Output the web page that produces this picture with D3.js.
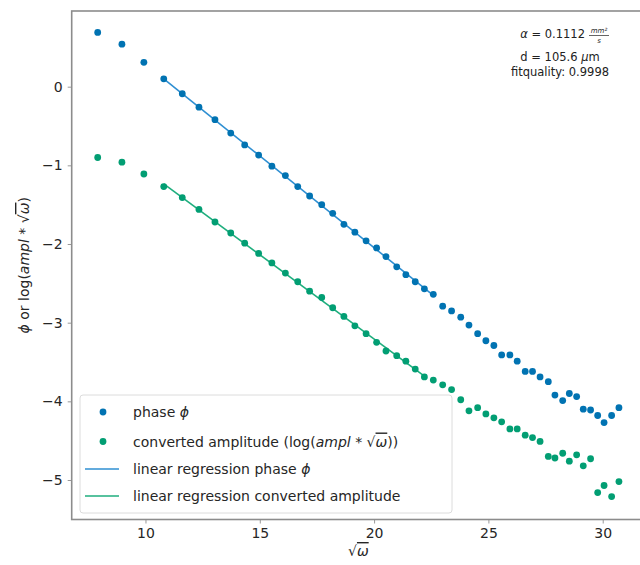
<!DOCTYPE html>
<html>
<head>
<meta charset="utf-8">
<script src="https://cdn.jsdelivr.net/npm/d3@7"></script>
<style>
  html, body { margin: 0; padding: 0; background: #fff; }
  svg { display: block; font-family: "DejaVu Sans", sans-serif; }
</style>
</head>
<body>
<svg id="chart" width="640" height="565"></svg>
<script>
// ---- data ----
const sqrtOmega = [7.91, 8.97, 9.93, 10.80, 11.61, 12.34, 13.04, 13.73, 14.34, 14.95,
  15.53, 16.12, 16.66, 17.18, 17.71, 18.19, 18.68, 19.16, 19.65, 20.11,
  20.52, 20.99, 21.39, 21.80, 22.20, 22.59, 23.00, 23.39, 23.79, 24.15,
  24.53, 24.89, 25.24, 25.58, 25.94, 26.26, 26.61, 26.93, 27.26, 27.62,
  27.91, 28.25, 28.54, 28.86, 29.15, 29.47, 29.78, 30.06, 30.39, 30.71];
const phase = [0.69, 0.54, 0.31, 0.10, -0.09, -0.26, -0.42, -0.59, -0.74, -0.87,
  -1.01, -1.13, -1.27, -1.39, -1.50, -1.61, -1.75, -1.85, -1.96, -2.05,
  -2.16, -2.29, -2.39, -2.48, -2.57, -2.64, -2.79, -2.85, -2.93, -3.03,
  -3.14, -3.23, -3.29, -3.41, -3.41, -3.49, -3.62, -3.62, -3.69, -3.75,
  -3.92, -3.99, -3.90, -3.94, -4.10, -4.11, -4.18, -4.27, -4.18, -4.08];
const amplitude = [-0.90, -0.96, -1.11, -1.27, -1.41, -1.56, -1.72, -1.86, -1.99, -2.12,
  -2.24, -2.37, -2.48, -2.60, -2.68, -2.81, -2.92, -3.04, -3.14, -3.25,
  -3.36, -3.42, -3.49, -3.59, -3.69, -3.73, -3.79, -3.85, -3.98, -4.12,
  -4.08, -4.16, -4.21, -4.26, -4.35, -4.35, -4.43, -4.46, -4.51, -4.70,
  -4.72, -4.66, -4.76, -4.68, -4.82, -4.73, -5.16, -5.07, -5.21, -5.02];
// index range of points used for each linear regression
const phaseFitRange = [3, 25];
const amplFitRange = [3, 24];
const xTicks = [10, 15, 20, 25, 30];
const yTicks = [0, -1, -2, -3, -4, -5];
const annotation = { alpha: "0.1112", d: "105.6", fit: "0.9998" };

// ---- layout ----
const svg = d3.select("#chart");
const pLeft = 71.7, pRight = 645, pTop = 11, pBottom = 519.5;
const x = d3.scaleLinear().domain([6.773, 31.85]).range([pLeft, pRight]);
const y = d3.scaleLinear().domain([-5.502, 0.962]).range([pBottom, pTop]);

const cBlue = "#0173b2", cGreen = "#029e73";
const lBlue = "#2f8fd2", lGreen = "#1fae7e";

function fit(xs, ys, r) {
  const X = xs.slice(r[0], r[1] + 1), Y = ys.slice(r[0], r[1] + 1);
  const mx = d3.mean(X), my = d3.mean(Y);
  let sxy = 0, sxx = 0;
  X.forEach((v, i) => { sxy += (v - mx) * (Y[i] - my); sxx += (v - mx) * (v - mx); });
  const m = sxy / sxx, b = my - m * mx;
  return [[X[0], m * X[0] + b], [X[X.length - 1], m * X[X.length - 1] + b]];
}

// axes
const gx = svg.append("g").attr("transform", `translate(0,${pBottom})`)
  .call(d3.axisBottom(x).tickValues(xTicks).tickSize(4).tickPadding(5).tickFormat(d3.format("d")));
const gy = svg.append("g").attr("transform", `translate(${pLeft},0)`)
  .call(d3.axisLeft(y).tickValues(yTicks).tickSize(4).tickPadding(5)
    .tickFormat(d => d < 0 ? "\u2212" + Math.abs(d) : d));
[gx, gy].forEach(g => {
  g.select(".domain").remove();
  g.selectAll(".tick line").attr("stroke", "#999").attr("stroke-width", 1);
  g.selectAll(".tick text").attr("fill", "#262626").style("font-size", "14px")
    .style("font-family", "DejaVu Sans");
});

// frame
svg.append("rect").attr("x", pLeft).attr("y", pTop)
  .attr("width", pRight - pLeft).attr("height", pBottom - pTop)
  .attr("fill", "none").attr("stroke", "#8c8c8c").attr("stroke-width", 1.6);

// regression lines
const line = d3.line().x(d => x(d[0])).y(d => y(d[1]));
svg.append("path").attr("d", line(fit(sqrtOmega, phase, phaseFitRange)))
  .attr("stroke", lBlue).attr("stroke-width", 1.6).attr("fill", "none");
svg.append("path").attr("d", line(fit(sqrtOmega, amplitude, amplFitRange)))
  .attr("stroke", lGreen).attr("stroke-width", 1.6).attr("fill", "none");

// points
svg.append("g").selectAll("circle").data(sqrtOmega).join("circle")
  .attr("cx", d => x(d)).attr("cy", (d, i) => y(phase[i])).attr("r", 3.4).attr("fill", cBlue);
svg.append("g").selectAll("circle").data(sqrtOmega).join("circle")
  .attr("cx", d => x(d)).attr("cy", (d, i) => y(amplitude[i])).attr("r", 3.4).attr("fill", cGreen);

// axis labels
const xl = svg.append("text").attr("x", (pLeft + pRight) / 2).attr("y", 556)
  .attr("text-anchor", "middle").style("font-size", "14px").attr("fill", "#262626");
xl.append("tspan").text("\u221A");
xl.append("tspan").style("font-style", "italic").style("text-decoration", "overline").text("\u03C9");

const yl = svg.append("text")
  .attr("transform", `translate(29,${(pTop + pBottom) / 2}) rotate(-90)`)
  .attr("text-anchor", "middle").style("font-size", "14px").attr("fill", "#262626");
yl.append("tspan").style("font-style", "italic").text("\u03D5");
yl.append("tspan").text(" or log(");
yl.append("tspan").style("font-style", "italic").text("ampl");
yl.append("tspan").text(" * \u221A");
yl.append("tspan").style("font-style", "italic").style("text-decoration", "overline").text("\u03C9");
yl.append("tspan").text(")");

// annotation
const ax = 560;
const a1 = svg.append("text").attr("x", 585).attr("y", 38).attr("text-anchor", "end")
  .style("font-size", "11.5px").attr("fill", "#222");
a1.append("tspan").style("font-style", "italic").text("\u03B1");
a1.append("tspan").text(" = " + annotation.alpha);
svg.append("text").attr("x", 599).attr("y", 33).attr("text-anchor", "middle")
  .style("font-size", "7px").style("font-style", "italic").attr("fill", "#222").text("mm\u00B2");
svg.append("line").attr("x1", 589).attr("x2", 609).attr("y1", 35.5).attr("y2", 35.5)
  .attr("stroke", "#222").attr("stroke-width", 0.7);
svg.append("text").attr("x", 599).attr("y", 43).attr("text-anchor", "middle")
  .style("font-size", "7px").style("font-style", "italic").attr("fill", "#222").text("s");
const a2 = svg.append("text").attr("x", ax).attr("y", 61).attr("text-anchor", "middle")
  .style("font-size", "11.5px").attr("fill", "#222");
a2.append("tspan").text("d = " + annotation.d + " ");
a2.append("tspan").style("font-style", "italic").text("\u03BC");
a2.append("tspan").text("m");
svg.append("text").attr("x", ax).attr("y", 76).attr("text-anchor", "middle")
  .style("font-size", "11.5px").attr("fill", "#222").text("fitquality: " + annotation.fit);

// legend
const lg = svg.append("g");
lg.append("rect").attr("x", 80).attr("y", 395).attr("width", 372).attr("height", 118)
  .attr("rx", 3).attr("fill", "#fff").attr("fill-opacity", 0.85)
  .attr("stroke", "#dcdcdc").attr("stroke-width", 1);
const rows = [412, 441.5, 469, 496];
lg.append("circle").attr("cx", 103).attr("cy", rows[0]).attr("r", 3.4).attr("fill", cBlue);
lg.append("circle").attr("cx", 103).attr("cy", rows[1]).attr("r", 3.4).attr("fill", cGreen);
lg.append("line").attr("x1", 85).attr("x2", 119).attr("y1", rows[2]).attr("y2", rows[2])
  .attr("stroke", lBlue).attr("stroke-width", 1.6);
lg.append("line").attr("x1", 85).attr("x2", 119).attr("y1", rows[3]).attr("y2", rows[3])
  .attr("stroke", lGreen).attr("stroke-width", 1.6);
function ltext(yy) {
  return lg.append("text").attr("x", 133).attr("y", yy + 5).style("font-size", "14px").attr("fill", "#262626");
}
let t = ltext(rows[0]);
t.append("tspan").text("phase ");
t.append("tspan").style("font-style", "italic").text("\u03D5");
t = ltext(rows[1]);
t.append("tspan").text("converted amplitude (log(");
t.append("tspan").style("font-style", "italic").text("ampl");
t.append("tspan").text(" * \u221A");
t.append("tspan").style("font-style", "italic").style("text-decoration", "overline").text("\u03C9");
t.append("tspan").text("))");
t = ltext(rows[2]);
t.append("tspan").text("linear regression phase ");
t.append("tspan").style("font-style", "italic").text("\u03D5");
t = ltext(rows[3]);
t.append("tspan").text("linear regression converted amplitude");
</script>
</body>
</html>
